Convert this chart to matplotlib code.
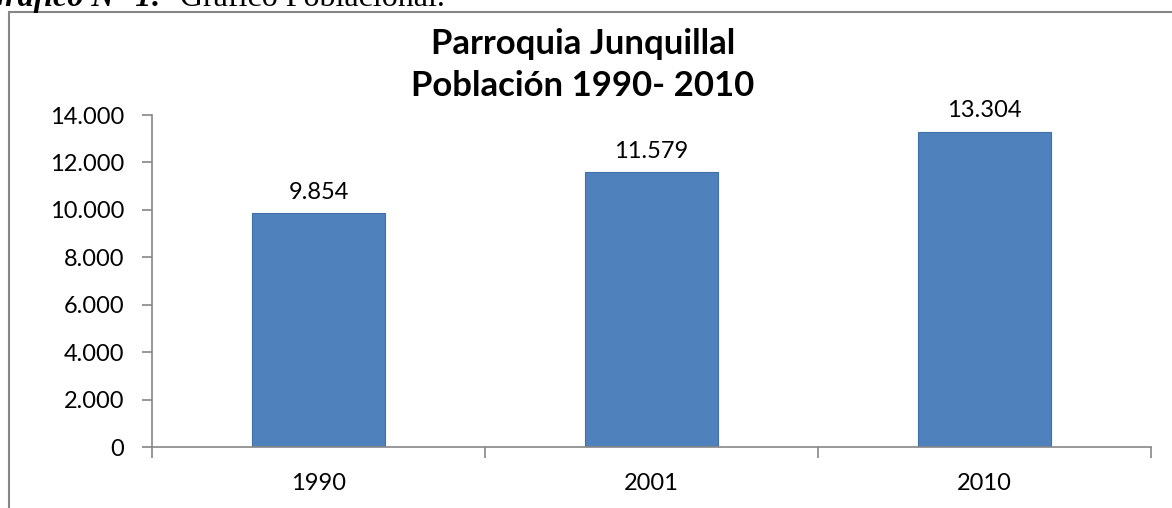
import matplotlib.pyplot as plt
from matplotlib.patches import Rectangle

years = ["1990", "2001", "2010"]
population = [9854, 11579, 13304]
yticks = [0, 2000, 4000, 6000, 8000, 10000, 12000, 14000]


def fmt(v):
    return f"{v:,}".replace(",", ".")


fig = plt.figure(figsize=(11.72, 5.08), dpi=100)
W, H = 1172, 508
ax = fig.add_axes([152 / W, 1 - 447 / H, (1151 - 152) / W, (447 - 115) / H])

x = list(range(len(years)))
bars = ax.bar(x, population, width=0.4, color="#4F81BD", edgecolor="#3F6FA8", linewidth=0.8)
for b, v in zip(bars, population):
    ax.text(b.get_x() + b.get_width() / 2, v + 450, fmt(v), ha="center", va="bottom",
            fontsize=17, family="Lato")

ax.set_xlim(-0.5, 2.5)
ax.set_ylim(0, 14000)
ax.set_yticks(yticks)
ax.set_yticklabels([fmt(t) for t in yticks], family="Lato", fontsize=17)
ax.set_xticks([-0.5, 0.5, 1.5, 2.5])
ax.set_xticklabels([])
ax.set_xticks(x, minor=True)
ax.set_xticklabels(years, minor=True, family="Lato", fontsize=17)
ax.tick_params(axis="x", which="major", length=8, color="#868686", width=1.2)
ax.tick_params(axis="x", which="minor", length=0, pad=19)
ax.tick_params(axis="y", length=7, color="#868686", width=1.2, pad=13)
for s in ["top", "right"]:
    ax.spines[s].set_visible(False)
for s in ["left", "bottom"]:
    ax.spines[s].set_color("#868686")
    ax.spines[s].set_linewidth(1.2)

fig.text(583 / W, 1 - 54 / H, "Parroquia Junquillal", ha="center", va="baseline",
         fontsize=25, fontweight="bold", family="Lato")
fig.text(583 / W, 1 - 96 / H, "Población 1990- 2010", ha="center", va="baseline",
         fontsize=25, fontweight="bold", family="Lato")

# chart frame, running off the right and bottom edges
fig.patches.append(Rectangle((8.5 / W, -0.1), 1.2, 1 - 12.5 / H + 0.1, transform=fig.transFigure,
                             fill=False, edgecolor="#868686", linewidth=1.5))

# caption, cut at the top of the image
fig.text(162 / W, 1 - 6 / H, "Gráfico N° 1:", ha="right", va="baseline", fontsize=23,
         family="Liberation Serif", fontweight="bold", style="italic")
fig.text(180 / W, 1 - 6 / H, "Gráfico Poblacional.", ha="left", va="baseline", fontsize=23,
         family="Liberation Serif")

fig.savefig("out.png", dpi=100)
